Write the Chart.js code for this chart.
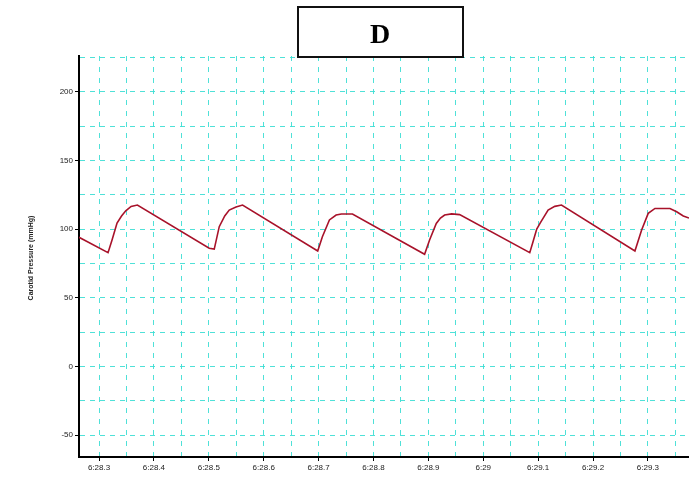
<!DOCTYPE html>
<html>
<head>
<meta charset="utf-8">
<script src="https://cdn.jsdelivr.net/npm/chart.js@4"></script>
<style>
  html, body { margin: 0; padding: 0; background: #fff; }
  #wrap { width: 689px; height: 481px; position: relative; }
</style>
</head>
<body>
<div id="wrap"><canvas id="pressureChart"></canvas></div>
<script>
// Time in seconds within minute 6 (x axis shows 6:ss.s)
const times = [
    28.2635, 28.3164, 28.3237, 28.3328, 28.3410, 28.3487, 28.3584, 28.3699,
    28.5007, 28.5099, 28.5190, 28.5290, 28.5372, 28.5495, 28.5615,
    28.6984, 28.7069, 28.7197, 28.7319, 28.7416, 28.7617,
    28.8931, 28.9022, 28.9144, 28.9220, 28.9296, 28.9423, 28.9569,
    29.0847, 29.0901, 29.0974, 29.1047, 29.1181, 29.1303, 29.1425,
    29.2763, 29.2885, 29.3005, 29.3128, 29.3401, 29.3523, 29.3644, 29.3748
];
// Carotid pressure (mmHg)
const pressure = [
    94, 82.8, 92, 104.4, 109.5, 113.3, 116.5, 117.5,
    86, 85.4, 101.7, 109.5, 113.8, 116, 117.5,
    84, 94.4, 106.6, 110.2, 111, 111,
    81.6, 92, 104.1, 108, 110.2, 111, 110.5,
    82.8, 90, 100, 105, 113.8, 116.5, 117.5,
    84, 99.3, 111.4, 115, 115, 112.6, 109.5, 108
];
const chartTitle = 'D';
const yAxisTitle = 'Carotid Pressure (mmHg)';
const minutePrefix = '6:';

const gridCyan = 'rgba(60, 222, 212, 0.9)';

// Title box and rotated y-axis title
const decorations = {
    id: 'decorations',
    afterDraw(chart) {
        const ctx = chart.ctx;
        ctx.save();
        ctx.fillStyle = '#fff';
        ctx.fillRect(298, 7, 165, 50);
        ctx.strokeStyle = '#111';
        ctx.lineWidth = 2;
        ctx.strokeRect(298, 7, 165, 50);
        ctx.fillStyle = '#000';
        ctx.font = 'bold 28px "Liberation Serif"';
        ctx.textAlign = 'center';
        ctx.textBaseline = 'middle';
        ctx.fillText(chartTitle, 380, 36);

        ctx.translate(31, 258);
        ctx.rotate(-Math.PI / 2);
        ctx.font = 'bold 7px "Liberation Sans"';
        ctx.fillStyle = '#222';
        ctx.fillText(yAxisTitle, 0, 0);
        ctx.restore();
    }
};

const points = times.map((t, i) => ({ x: t, y: pressure[i] }));

new Chart(document.getElementById('pressureChart'), {
    type: 'line',
    data: {
        datasets: [{
            data: points,
            borderColor: '#a8122a',
            borderWidth: 1.6,
            pointRadius: 0,
            tension: 0,
            fill: false
        }]
    },
    options: {
        responsive: true,
        maintainAspectRatio: false,
        animation: false,
        layout: { padding: { top: 56, right: 0, left: 0, bottom: 0 } },
        plugins: {
            legend: { display: false },
            tooltip: { enabled: false }
        },
        scales: {
            x: {
                type: 'linear',
                min: 28.2635,
                max: 29.3748,
                afterFit: s => { s.height = 24; },
                border: { color: '#000', width: 2, dash: [5, 6] },
                grid: {
                    color: gridCyan,
                    lineWidth: 1,
                    tickLength: 4,
                    tickBorderDash: [],
                    tickColor: c => (Math.round(c.tick.value * 100) % 10 === 0 ? '#000' : 'rgba(0,0,0,0)')
                },
                ticks: {
                    stepSize: 0.05,
                    includeBounds: false,
                    autoSkip: false,
                    maxRotation: 0,
                    padding: 2,
                    color: '#222',
                    font: { family: 'Liberation Sans', size: 8 },
                    callback: v => {
                        const r = Math.round(v * 100);
                        if (r % 10 !== 0) return '';
                        return minutePrefix + (r / 100).toString();
                    }
                }
            },
            y: {
                min: -66,
                max: 226,
                afterFit: s => { s.width = 79; },
                border: { color: '#000', width: 2, dash: [5, 5] },
                grid: {
                    color: gridCyan,
                    lineWidth: 1,
                    tickLength: 4,
                    tickBorderDash: [],
                    tickColor: c => (c.tick.value % 50 === 0 ? '#000' : 'rgba(0,0,0,0)')
                },
                ticks: {
                    stepSize: 25,
                    includeBounds: false,
                    padding: 2,
                    color: '#222',
                    font: { family: 'Liberation Sans', size: 8 },
                    callback: v => (v % 50 === 0 ? v : '')
                }
            }
        }
    },
    plugins: [decorations]
});
</script>
</body>
</html>
